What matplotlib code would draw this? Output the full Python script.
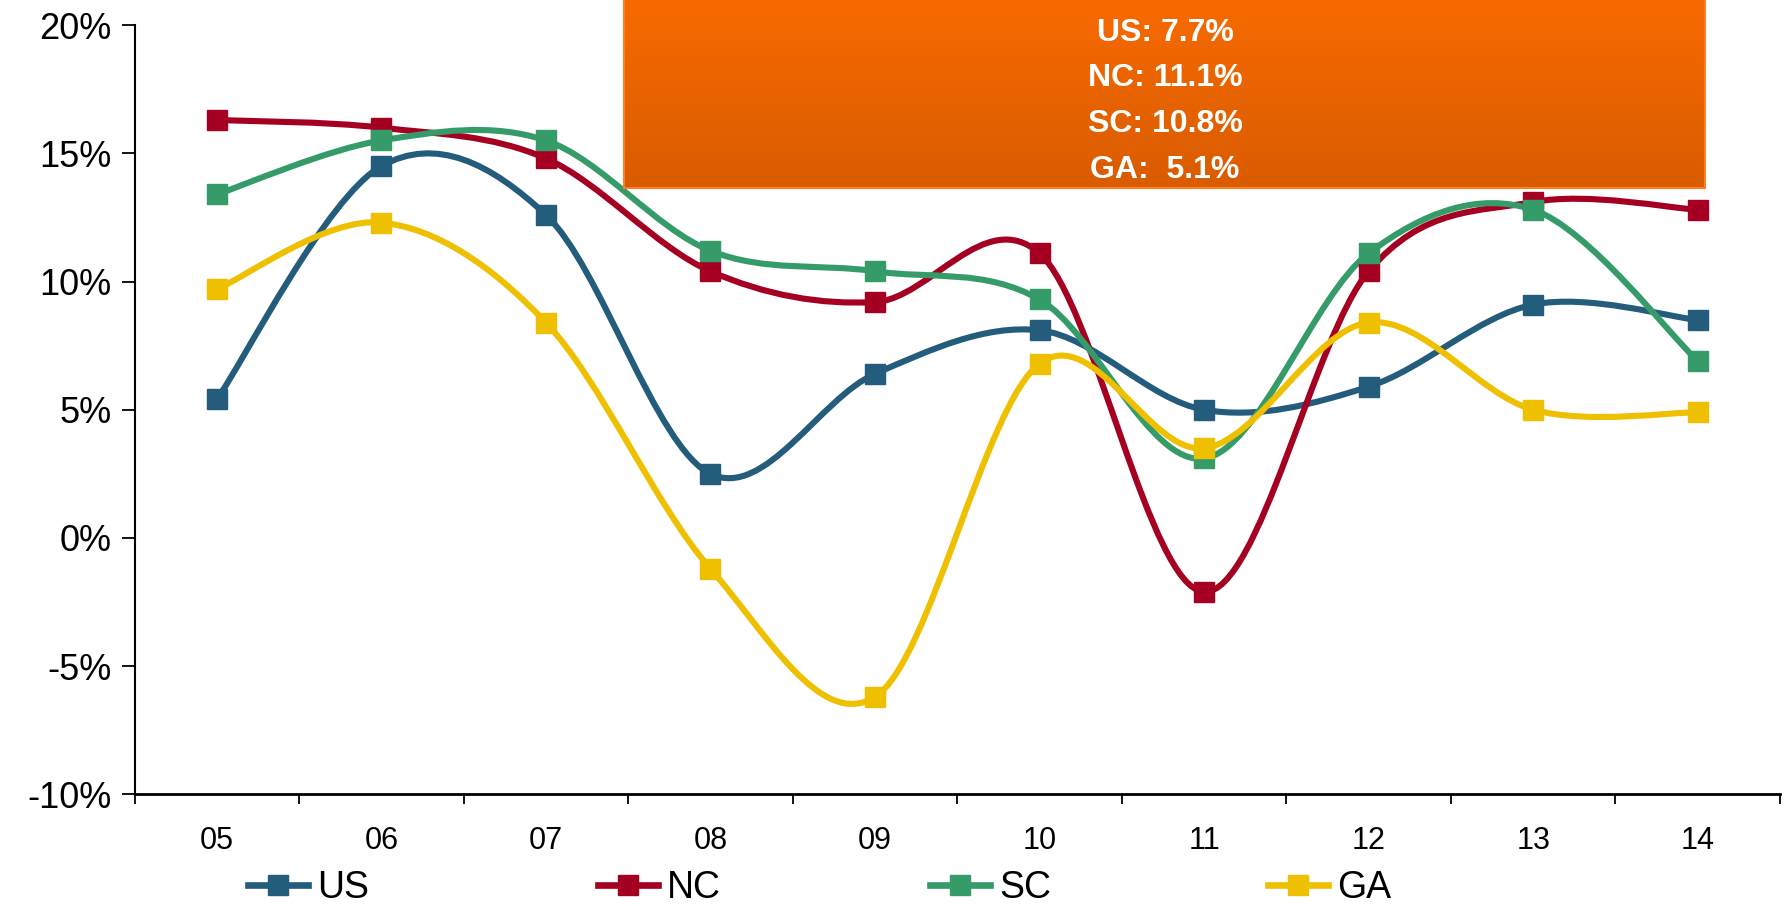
import numpy as np
import matplotlib
matplotlib.use("Agg")
import matplotlib.pyplot as plt
from matplotlib.path import Path
from matplotlib.patches import PathPatch
from matplotlib.lines import Line2D

plt.rcParams['font.family'] = ['Liberation Sans', 'DejaVu Sans']

# year-over-year change, %
years = ['05', '06', '07', '08', '09', '10', '11', '12', '13', '14']
us = [5.4, 14.5, 12.6, 2.5, 6.4, 8.1, 5.0, 5.9, 9.1, 8.5]
nc = [16.3, 16.0, 14.8, 10.4, 9.2, 11.1, -2.1, 10.4, 13.1, 12.8]
sc = [13.4, 15.5, 15.5, 11.2, 10.4, 9.3, 3.1, 11.1, 12.8, 6.9]
ga = [9.7, 12.3, 8.4, -1.2, -6.2, 6.8, 3.5, 8.4, 5.0, 4.9]

series_names = ['US', 'NC', 'SC', 'GA']
series_colors = ['#245C7C', '#A50021', '#359B68', '#EEC000']
box_lines = ['US: 7.7%', 'NC: 11.1%', 'SC: 10.8%', 'GA:  5.1%']

W, H = 1787, 906


def smooth_path(x, y):
    # excel style smoothed line: cubic bezier, catmull-rom control points
    x = np.asarray(x, float)
    y = np.asarray(y, float)
    n = len(x)
    verts = [(x[0], y[0])]
    codes = [Path.MOVETO]
    for i in range(n - 1):
        xp, yp = (x[i - 1], y[i - 1]) if i > 0 else (x[i], y[i])
        xn, yn = (x[i + 2], y[i + 2]) if i + 2 < n else (x[i + 1], y[i + 1])
        c1 = (x[i] + (x[i + 1] - xp) / 6, y[i] + (y[i + 1] - yp) / 6)
        c2 = (x[i + 1] - (xn - x[i]) / 6, y[i + 1] - (yn - y[i]) / 6)
        verts += [c1, c2, (x[i + 1], y[i + 1])]
        codes += [Path.CURVE4] * 3
    return Path(verts, codes)


fig = plt.figure(figsize=(W / 100, H / 100), dpi=100)
ax = fig.add_axes([134.5 / W, 1 - 794.4 / H, (1780 - 134.5) / W, (794.4 - 25.1) / H])

xs = np.arange(len(years))
handles = []
for name, vals, col in zip(series_names, [us, nc, sc, ga], series_colors):
    ax.add_patch(PathPatch(smooth_path(xs, vals), fill=False, edgecolor=col,
                           lw=4.4, capstyle='round', joinstyle='round', zorder=3))
    ax.plot(xs, vals, ls='none', marker='s', ms=14, color=col, zorder=4)
    handles.append(Line2D([], [], color=col, lw=4.8, marker='s', ms=14))

ax.set_xlim(-0.5, len(years) - 0.5)
ax.set_ylim(-10, 20)
ax.set_yticks(np.arange(-10, 21, 5))
ax.set_yticklabels([f'{v}%' for v in range(-10, 21, 5)], fontsize=26)
ax.set_xticks(np.arange(-0.5, len(years), 1.0))
ax.set_xticklabels([])
ax.set_xticks(xs, minor=True)
ax.set_xticklabels(years, minor=True, fontsize=22)
ax.tick_params(axis='x', which='major', length=7, width=1.3, direction='out')
ax.tick_params(axis='x', which='minor', length=0, pad=23)
ax.tick_params(axis='y', length=9.5, width=1.3, direction='out', pad=7)
for s in ['top', 'right']:
    ax.spines[s].set_visible(False)
ax.spines['left'].set_linewidth(1.5)
ax.spines['bottom'].set_linewidth(2.0)

# legend entries placed one by one, as in the original
leg_x = [248, 598, 930, 1268]
for h, name, lx in zip(handles, series_names, leg_x):
    lg = fig.legend([h], [name], loc='center left', bbox_to_anchor=(lx / W, 1 - 888 / H),
                    frameon=False, fontsize=27, handlelength=1.6, handletextpad=0.25,
                    borderpad=0, borderaxespad=0)

# orange call-out box (runs off the top of the image)
bx = fig.add_axes([624 / W, 1 - 188 / H, (1705 - 624) / W, 190 / H])
top = np.array([0xF8, 0x6A, 0x00]) / 255
bot = np.array([0xD9, 0x5C, 0x00]) / 255
grad = np.linspace(0, 1, 200)[:, None, None]
bx.imshow(top + (bot - top) * grad, aspect='auto', extent=(0, 1, 0, 1), origin='upper')
bx.set_xticks([])
bx.set_yticks([])
for s in bx.spines.values():
    s.set_edgecolor('#FF7F27')
    s.set_linewidth(1.5)

for i, t in enumerate(box_lines):
    fig.text(1165 / W, 1 - (33 + 45.5 * i) / H, t, ha='center', va='center',
             color='white', fontsize=23, fontweight='bold')

fig.savefig('out.png', dpi=100)
